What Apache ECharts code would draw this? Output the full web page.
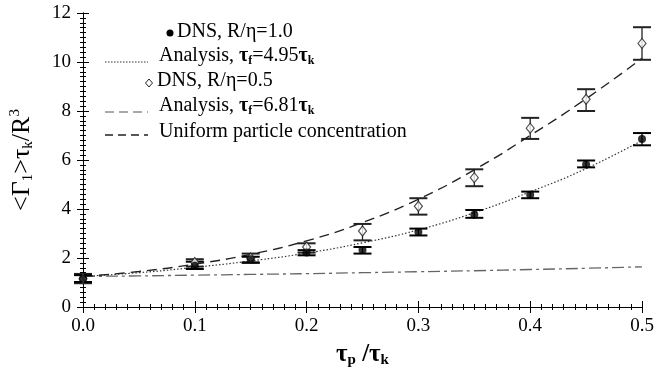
<!DOCTYPE html>
<html>
<head>
<meta charset="utf-8">
<script src="https://cdn.jsdelivr.net/npm/echarts@6/dist/echarts.min.js"></script>
<style>
html,body{margin:0;padding:0;background:#fff;}
#c{width:667px;height:373px;}
</style>
</head>
<body>
<div id="c"></div>
<script>
// ---- data ----
const xTicks = ['0.0', '0.1', '0.2', '0.3', '0.4', '0.5'];
const yTicks = ['0', '2', '4', '6', '8', '10', '12'];

const dnsX = [0, 0.1, 0.15, 0.2, 0.25, 0.3, 0.35, 0.4, 0.45, 0.5];
const dns10 = [1.15, 1.68, 1.95, 2.22, 2.33, 3.06, 3.77, 4.58, 5.82, 6.86];
const dns10Low = [1.02, 1.55, 1.82, 2.11, 2.18, 2.92, 3.64, 4.44, 5.70, 6.60];
const dns10High = [1.30, 1.85, 2.05, 2.32, 2.45, 3.20, 3.96, 4.71, 5.98, 7.10];

const dns05 = [1.15, 1.82, 2.00, 2.45, 3.10, 4.11, 5.28, 7.30, 8.48, 10.76];
const dns05Low = [0.97, 1.65, 1.80, 2.22, 2.72, 3.77, 4.93, 6.86, 8.00, 10.09];
const dns05High = [1.35, 1.95, 2.18, 2.60, 3.39, 4.44, 5.62, 7.72, 8.89, 11.42];

const curveX = [0, 0.05, 0.1, 0.15, 0.2, 0.25, 0.3, 0.35, 0.4, 0.45, 0.5];
const analysis495 = [1.25, 1.40, 1.62, 1.88, 2.20, 2.62, 3.15, 3.85, 4.70, 5.65, 6.80];
const analysis681 = [1.25, 1.45, 1.75, 2.15, 2.70, 3.45, 4.40, 5.60, 7.00, 8.50, 10.15];
const uniform = [1.25, 1.27, 1.30, 1.33, 1.36, 1.40, 1.44, 1.48, 1.53, 1.58, 1.64];

// ---- build ----
const FONT = 'Liberation Serif';
const pairs = (xs, ys) => xs.map((x, i) => [x, ys[i]]);
const bars = (xs, lo, hi) => xs.map((x, i) => [x, lo[i], hi[i]]);

function errorBar(color, capW) {
  return function (params, api) {
    const lo = api.coord([api.value(0), api.value(1)]);
    const hi = api.coord([api.value(0), api.value(2)]);
    const hw = capW / 2;
    const st = { stroke: color, lineWidth: 2 };
    return {
      type: 'group',
      children: [
        { type: 'line', shape: { x1: lo[0], y1: lo[1], x2: hi[0], y2: hi[1] }, style: { stroke: color, lineWidth: 1.3 } },
        { type: 'line', shape: { x1: lo[0] - hw, y1: lo[1], x2: lo[0] + hw, y2: lo[1] }, style: st },
        { type: 'line', shape: { x1: hi[0] - hw, y1: hi[1], x2: hi[0] + hw, y2: hi[1] }, style: st }
      ]
    };
  };
}

const axisCommon = {
  axisLine: { show: true, lineStyle: { color: '#000', width: 1 } },
  axisTick: { show: true, inside: true, length: 6, lineStyle: { color: '#000', width: 1 } },
  minorTick: { show: true, splitNumber: 10, length: 3, lineStyle: { color: '#000', width: 1 } },
  splitLine: { show: false },
  minorSplitLine: { show: false }
};

const chart = echarts.init(document.getElementById('c'));
const subB = { fontFamily: FONT, fontSize: 12, padding: [9, 0, 0, 0], color: '#000', fontWeight: 'bold' };

const option = {
  animation: false,
  backgroundColor: '#fff',
  grid: { left: 81, right: 25, top: 13, bottom: 63, containLabel: false },
  xAxis: [
    Object.assign({}, axisCommon, {
      type: 'value', min: 0, max: 0.5, interval: 0.1, position: 'bottom',
      axisLabel: {
        margin: 10, fontFamily: FONT, fontSize: 19, color: '#000',
        formatter: (v) => xTicks[Math.round(v * 10)]
      },
      name: '{t|τ}{s|p}{t| /τ}{s|k}', nameLocation: 'middle', nameGap: 34,
      nameTextStyle: {
        rich: {
          t: { fontFamily: FONT, fontSize: 25, fontWeight: 'bold', color: '#000' },
          s: { fontFamily: FONT, fontSize: 15, fontWeight: 'bold', color: '#000', padding: [12, 0, 0, 0] }
        }
      }
    }),
    Object.assign({}, axisCommon, {
      type: 'value', min: 0, max: 0.5, interval: 0.1, position: 'top',
      axisLabel: { show: false }
    })
  ],
  yAxis: [
    Object.assign({}, axisCommon, {
      type: 'value', min: 0, max: 12, interval: 2, position: 'left',
      axisLabel: {
        margin: 12, fontFamily: FONT, fontSize: 19, color: '#000',
        formatter: (v) => yTicks[Math.round(v / 2)]
      },
      name: '{t|<Γ}{s|1}{t|>τ}{s|k}{t|/R}{u|3}', nameLocation: 'middle', nameGap: 46, nameRotate: 90,
      nameTextStyle: {
        rich: {
          t: { fontFamily: FONT, fontSize: 26, color: '#000' },
          s: { fontFamily: FONT, fontSize: 15, color: '#000', padding: [12, 0, 0, 0] },
          u: { fontFamily: FONT, fontSize: 15, color: '#000', padding: [0, 0, 14, 0] }
        }
      }
    }),
    Object.assign({}, axisCommon, {
      type: 'value', min: 0, max: 12, interval: 2, position: 'right',
      axisLabel: { show: false }
    })
  ],
  series: [
    {
      name: 'Uniform particle concentration', type: 'line', data: pairs(curveX, uniform),
      smooth: true, symbol: 'none',
      lineStyle: { color: '#666', width: 1.3, type: [12, 4, 3, 4] }, z: 2
    },
    {
      name: 'Analysis 4.95', type: 'line', data: pairs(curveX, analysis495),
      smooth: true, symbol: 'none',
      lineStyle: { color: '#333', width: 1.2, type: [1.5, 2] }, z: 2
    },
    {
      name: 'Analysis 6.81', type: 'line', data: pairs(curveX, analysis681),
      smooth: true, symbol: 'none',
      lineStyle: { color: '#222', width: 1.4, type: [10, 6] }, z: 2
    },
    {
      name: 'err05', type: 'custom', renderItem: errorBar('#222', 18),
      data: bars(dnsX, dns05Low, dns05High), encode: { x: 0, y: [1, 2] }, z: 3, clip: false
    },
    {
      name: 'err10', type: 'custom', renderItem: errorBar('#000', 18),
      data: bars(dnsX, dns10Low, dns10High), encode: { x: 0, y: [1, 2] }, z: 3, clip: false
    },
    {
      name: 'DNS, R/η=0.5', type: 'scatter', data: pairs(dnsX, dns05),
      symbol: 'diamond', symbolSize: [8, 10],
      itemStyle: { color: '#fff', borderColor: '#222', borderWidth: 1.2 }, z: 4
    },
    {
      name: 'DNS, R/η=1.0', type: 'scatter', data: pairs(dnsX, dns10),
      symbol: 'circle', symbolSize: 8,
      itemStyle: { color: '#000' }, z: 5
    }
  ],
  graphic: [
    // legend
    { type: 'circle', shape: { cx: 170, cy: 33, r: 3.5 }, style: { fill: '#000' } },
    { type: 'text', left: 177, top: 22, style: { text: 'DNS, R/η=1.0', font: '20px "Liberation Serif"', fill: '#000' } },
    { type: 'line', shape: { x1: 105, y1: 62, x2: 148, y2: 62 }, style: { stroke: '#333', lineWidth: 1, lineDash: [1.5, 1.5] } },
    { type: 'text', left: 159, top: 46, style: {
      text: '{a|Analysis, }{b|τ}{s|f}{a|=4.95}{b|τ}{s|k}',
      rich: { a: { fontFamily: FONT, fontSize: 20, fill: '#000' }, b: { fontFamily: FONT, fontSize: 20, fontWeight: 'bold', fill: '#000' }, s: subB }
    } },
    { type: 'polygon', shape: { points: [[149, 79], [152.5, 83], [149, 87], [145.5, 83]] }, style: { fill: '#fff', stroke: '#222', lineWidth: 1 } },
    { type: 'text', left: 157, top: 71, style: { text: 'DNS, R/η=0.5', font: '20px "Liberation Serif"', fill: '#000' } },
    { type: 'line', shape: { x1: 105, y1: 112, x2: 148, y2: 112 }, style: { stroke: '#555', lineWidth: 1, lineDash: [9, 5] } },
    { type: 'text', left: 159, top: 96, style: {
      text: '{a|Analysis, }{b|τ}{s|f}{a|=6.81}{b|τ}{s|k}',
      rich: { a: { fontFamily: FONT, fontSize: 20, fill: '#000' }, b: { fontFamily: FONT, fontSize: 20, fontWeight: 'bold', fill: '#000' }, s: subB }
    } },
    { type: 'line', shape: { x1: 105, y1: 135, x2: 148, y2: 135 }, style: { stroke: '#222', lineWidth: 1.6, lineDash: [8, 5] } },
    { type: 'text', left: 159, top: 122, style: { text: 'Uniform particle concentration', font: '20px "Liberation Serif"', fill: '#000' } }
  ]
};
chart.setOption(option);
</script>
</body>
</html>
